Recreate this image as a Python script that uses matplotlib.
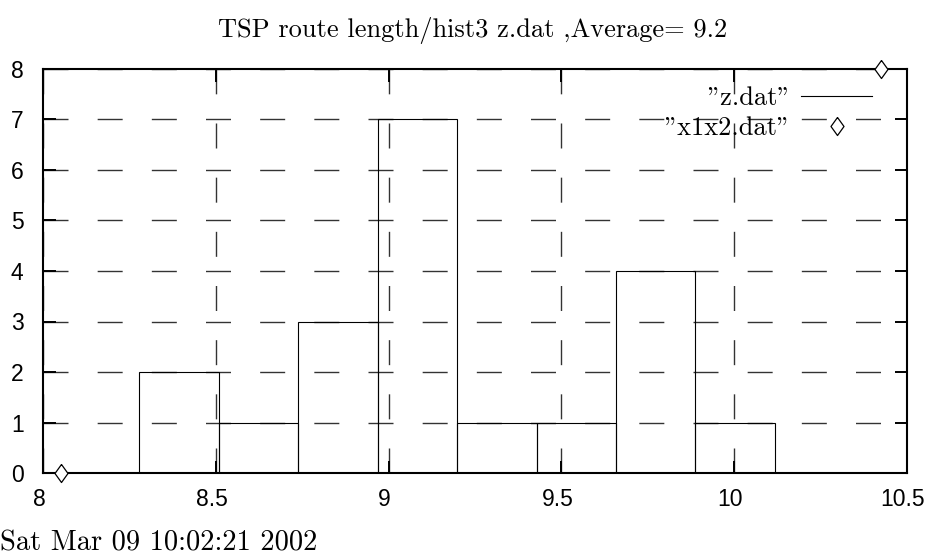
import numpy as np
import matplotlib.pyplot as plt
import matplotlib.transforms as mtransforms
from matplotlib.lines import Line2D

# histogram of TSP route lengths (z.dat)
bin_left = [8.278, 8.508, 8.738, 8.968, 9.198, 9.428, 9.658, 9.888]
bin_width = 0.23
counts = [2, 1, 3, 7, 1, 1, 4, 1]

# x1x2.dat points
x1x2_x = [8.052, 10.425]
x1x2_y = [0, 8]

xticks = [8, 8.5, 9, 9.5, 10, 10.5]
yticks = [0, 1, 2, 3, 4, 5, 6, 7, 8]

title = "TSP route length/hist3 z.dat ,Average= 9.2"
stamp = "Sat Mar 09 10:02:21 2002"

serif = "cmr10"
sans = "Liberation Sans"

fig = plt.figure(figsize=(9.28, 5.57), dpi=100)
ax = fig.add_axes([43 / 928, 1 - 473 / 557, 864 / 928, 404 / 557])

ax.bar(bin_left, counts, width=bin_width, align="edge", fill=False,
       edgecolor="black", lw=0.8)
diamond = [(0, 0.5), (0.36, 0), (0, -0.5), (-0.36, 0), (0, 0.5)]
ax.plot(x1x2_x, x1x2_y, ls="none", marker=diamond, ms=13, mfc="white",
        mec="black", mew=0.9, clip_on=False, zorder=5)

ax.set_xlim(8, 10.5)
ax.set_ylim(0, 8)
ax.set_xticks(xticks)
ax.set_yticks(yticks)
ax.set_xticklabels([f"{v:g}" for v in xticks], family=sans, fontsize=16.5)
ax.set_yticklabels([str(v) for v in yticks], family=sans, fontsize=16.5)
ax.tick_params(direction="in", top=True, right=True, length=9, width=1.4)
ax.tick_params(axis="x", pad=11)
ax.tick_params(axis="y", pad=14)
# gnuplot puts the x labels a few pixels left of the tick
shift = mtransforms.ScaledTranslation(-4 / 100, 0, fig.dpi_scale_trans)
for lbl in ax.get_xticklabels():
    lbl.set_transform(lbl.get_transform() + shift)
for s in ax.spines.values():
    s.set_linewidth(1.5)

ax.grid(True, color="0.2", lw=1.0, ls=(0, (18, 21)))
ax.set_axisbelow(True)

handles = [Line2D([], [], color="black", lw=0.8),
           Line2D([], [], ls="none", marker=diamond, ms=13, mfc="white",
                  mec="black", mew=0.9)]
ax.legend(handles, ['"z.dat"', '"x1x2.dat"'], loc="upper right",
          bbox_to_anchor=(0.975, 0.99), frameon=False, markerfirst=False,
          handlelength=2.7, handletextpad=0.4, borderpad=0,
          labelspacing=0.25, prop={"family": serif, "size": 19})

fig.text(0.509, 0.946, title, family=serif, fontsize=19,
         ha="center", va="center")
fig.text(0.0, 0.012, stamp, family=serif, fontsize=20.5,
         ha="left", va="baseline")

fig.savefig("out.png", dpi=100)
